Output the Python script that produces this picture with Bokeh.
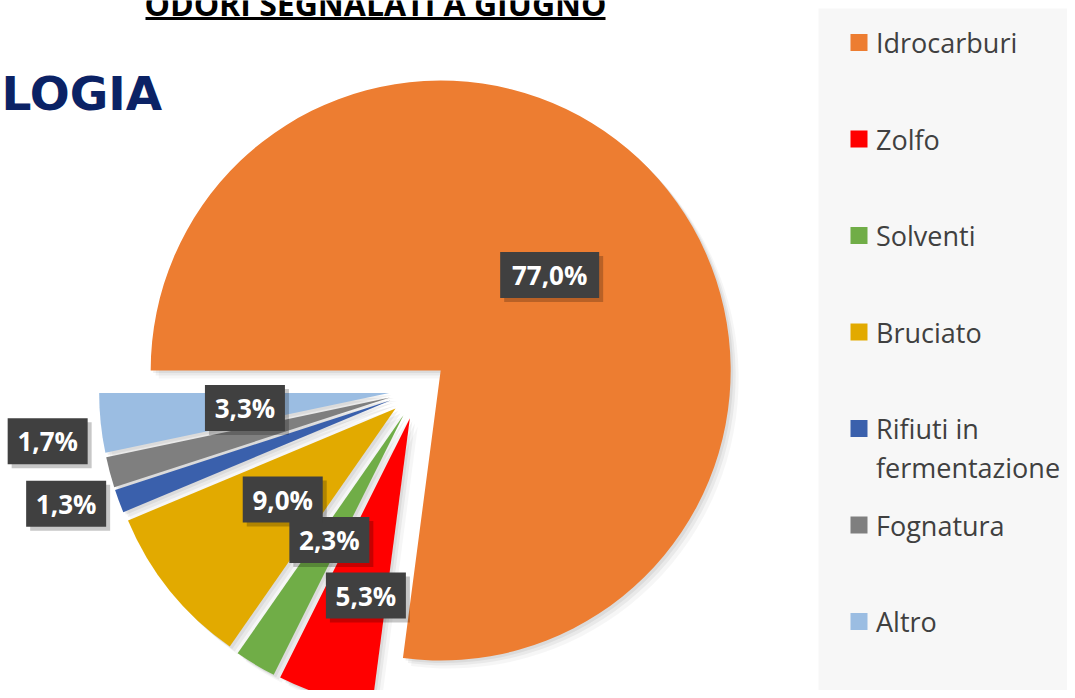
import math
import numpy as np
from bokeh.plotting import figure
from bokeh.models import Range1d
from bokeh.embed import file_html
from bokeh.resources import INLINE
from bokeh.core.properties import value

# ---------------- data ----------------
categories = ["Idrocarburi", "Zolfo", "Solventi", "Bruciato",
              "Rifiuti in fermentazione", "Fognatura", "Altro"]
percent = [77.0, 5.3, 2.3, 9.0, 1.3, 1.7, 3.3]
labels = ["77,0%", "5,3%", "2,3%", "9,0%", "1,3%", "1,7%", "3,3%"]
colors = ["#ED7D31", "#FF0000", "#70AD47", "#E2AA00",
          "#3A60AC", "#7F7F7F", "#9BBDE2"]
title_text = "ODORI SEGNALATI A GIUGNO"
logo_text = "LOGIA"

# ---------------- layout ----------------
W, H = 1067, 690


def sy(y):
    """pixels from top of the chart -> data y"""
    return H - y


p = figure(width=W, height=H, x_range=Range1d(0, W), y_range=Range1d(0, H),
           output_backend="svg", toolbar_location=None, min_border=0)
p.axis.visible = False
p.grid.visible = False
p.outline_line_color = None
p.background_fill_color = "white"
p.border_fill_color = "white"

# pie geometry (Excel style: first slice at 9 o'clock, clockwise)
first_angle = 270.0
CX, CY = 418.0, sy(389.5)
R = 290.0
EXPLODE = 29.5

vals = np.array(percent, dtype=float)
cum = np.concatenate([[0.0], np.cumsum(vals)]) / vals.sum() * 360.0 + first_angle
th0 = cum[:-1]
th1 = cum[1:]
mid = (th0 + th1) / 2.0

vx = CX + EXPLODE * np.sin(np.radians(mid))
vy = CY + EXPLODE * np.cos(np.radians(mid))
start = np.radians(90.0 - th0)
end = np.radians(90.0 - th1)

# soft shadows
for k, a in [(8, 0.035), (5, 0.05), (2.5, 0.06)]:
    p.wedge(x=vx + k, y=vy - k, radius=R, start_angle=start, end_angle=end,
            direction="clock", fill_color="black", fill_alpha=a, line_color=None)

p.wedge(x=vx, y=vy, radius=R, start_angle=start, end_angle=end,
        direction="clock", fill_color=colors, line_color=None)

# data labels
label_rf = [0.5, 0.63, 0.5, 0.5, 1.175, 1.19, 0.5]
label_dth = [0, -3.1, 0, 0, 2.7, 7.7, 0]
la = np.radians(mid + np.array(label_dth))
lx = vx + R * np.array(label_rf) * np.sin(la)
ly = vy + R * np.array(label_rf) * np.cos(la)
bw = [19 * len(t) + 4 for t in labels]
p.rect(x=lx + 4, y=ly - 4, width=bw, height=46, fill_color="black",
       fill_alpha=0.22, line_color=None)
p.rect(x=lx, y=ly, width=bw, height=46, fill_color="#404040", line_color=None)
p.text(x=lx, y=ly, text=labels, text_align="center", text_baseline="middle",
       text_color="white", text_font=value("Open Sans"), text_font_style="bold",
       text_font_size="26px")

# legend (manual, Excel look)
p.quad(left=818, right=W + 10, top=sy(8), bottom=sy(690), fill_color="#f7f7f7",
       line_color=None)


def wrap(s, n=13):
    lines, cur = [], ""
    for w in s.split():
        if cur and len(cur) + 1 + len(w) > n:
            lines.append(cur)
            cur = w
        else:
            cur = (cur + " " + w).strip()
    lines.append(cur)
    return lines


leg_x, leg_y0, leg_dy, line_h = 858.5, 42.0, 96.5, 39.0
mx, my, tx, ty, tt = [], [], [], [], []
for i, name in enumerate(categories):
    yy = leg_y0 + i * leg_dy
    mx.append(leg_x)
    my.append(sy(yy))
    for j, ln in enumerate(wrap(name)):
        tx.append(leg_x + 17)
        ty.append(sy(yy + j * line_h))
        tt.append(ln)
p.rect(x=mx, y=my, width=17, height=17, fill_color=colors, line_color=None)
p.text(x=tx, y=ty, text=tt, text_align="left", text_baseline="middle",
       text_color="#404040", text_font=value("Open Sans"), text_font_size="27px")

# title (cut at the top, underlined)
p.text(x=[375], y=[sy(3)], text=[title_text], text_align="center",
       text_baseline="middle", text_color="black",
       text_font=value("Open Sans"), text_font_style="bold", text_font_size="32px")
p.segment(x0=[145], x1=[605], y0=[sy(18)], y1=[sy(18)], line_color="black",
          line_width=3)

# logo fragment
p.text(x=[1], y=[sy(93)], text=[logo_text], text_align="left",
       text_baseline="middle", text_color="#0B2265",
       text_font=value("DejaVu Sans"), text_font_style="bold",
       text_font_size="47px")

open("out.html", "w").write(file_html(p, INLINE))
